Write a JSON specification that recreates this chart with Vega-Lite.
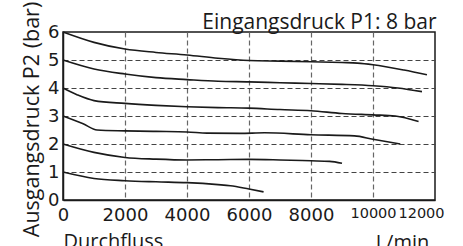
{
  "$schema": "https://vega.github.io/schema/vega-lite/v6.json",
  "autosize": {"type": "none"},
  "width": 372,
  "height": 168,
  "padding": {"left": 63, "top": 32, "right": 28, "bottom": 46},
  "background": "white",
  "config": {
    "view": {"stroke": "#1a1a1a", "strokeWidth": 1.5},
    "axis": {"labelColor": "#1a1a1a", "titleColor": "#1a1a1a"}
  },
  "data": {
    "values": [
      {"s": 6, "x": 0, "y": 6.0}, {"s": 6, "x": 1000, "y": 5.63}, {"s": 6, "x": 2000, "y": 5.39}, {"s": 6, "x": 3000, "y": 5.27}, {"s": 6, "x": 4000, "y": 5.18}, {"s": 6, "x": 5000, "y": 5.06}, {"s": 6, "x": 6000, "y": 4.98}, {"s": 6, "x": 7000, "y": 4.96}, {"s": 6, "x": 8000, "y": 4.94}, {"s": 6, "x": 9000, "y": 4.91}, {"s": 6, "x": 9500, "y": 4.89}, {"s": 6, "x": 10000, "y": 4.83}, {"s": 6, "x": 11000, "y": 4.64}, {"s": 6, "x": 11740, "y": 4.47},
      {"s": 5, "x": 0, "y": 5.0}, {"s": 5, "x": 1000, "y": 4.68}, {"s": 5, "x": 2000, "y": 4.5}, {"s": 5, "x": 3000, "y": 4.37}, {"s": 5, "x": 4000, "y": 4.3}, {"s": 5, "x": 5000, "y": 4.24}, {"s": 5, "x": 6000, "y": 4.22}, {"s": 5, "x": 7000, "y": 4.19}, {"s": 5, "x": 8000, "y": 4.16}, {"s": 5, "x": 9000, "y": 4.13}, {"s": 5, "x": 10000, "y": 4.08}, {"s": 5, "x": 10800, "y": 4.0}, {"s": 5, "x": 11580, "y": 3.87},
      {"s": 4, "x": 0, "y": 4.0}, {"s": 4, "x": 450, "y": 3.76}, {"s": 4, "x": 1000, "y": 3.55}, {"s": 4, "x": 2000, "y": 3.45}, {"s": 4, "x": 3000, "y": 3.38}, {"s": 4, "x": 4000, "y": 3.33}, {"s": 4, "x": 5000, "y": 3.3}, {"s": 4, "x": 6000, "y": 3.28}, {"s": 4, "x": 7000, "y": 3.23}, {"s": 4, "x": 8000, "y": 3.19}, {"s": 4, "x": 9000, "y": 3.09}, {"s": 4, "x": 10000, "y": 3.04}, {"s": 4, "x": 10720, "y": 3.0}, {"s": 4, "x": 11470, "y": 2.8},
      {"s": 3, "x": 0, "y": 3.0}, {"s": 3, "x": 650, "y": 2.72}, {"s": 3, "x": 1100, "y": 2.5}, {"s": 3, "x": 2000, "y": 2.47}, {"s": 3, "x": 3000, "y": 2.45}, {"s": 3, "x": 4000, "y": 2.43}, {"s": 3, "x": 4650, "y": 2.39}, {"s": 3, "x": 5700, "y": 2.38}, {"s": 3, "x": 6500, "y": 2.4}, {"s": 3, "x": 8000, "y": 2.33}, {"s": 3, "x": 9400, "y": 2.29}, {"s": 3, "x": 10000, "y": 2.17}, {"s": 3, "x": 10880, "y": 2.0},
      {"s": 2, "x": 0, "y": 2.0}, {"s": 2, "x": 1000, "y": 1.7}, {"s": 2, "x": 2000, "y": 1.52}, {"s": 2, "x": 3000, "y": 1.46}, {"s": 2, "x": 4000, "y": 1.43}, {"s": 2, "x": 5000, "y": 1.44}, {"s": 2, "x": 6000, "y": 1.45}, {"s": 2, "x": 7000, "y": 1.43}, {"s": 2, "x": 8000, "y": 1.4}, {"s": 2, "x": 8600, "y": 1.38}, {"s": 2, "x": 9000, "y": 1.31},
      {"s": 1, "x": 0, "y": 1.0}, {"s": 1, "x": 1000, "y": 0.77}, {"s": 1, "x": 2000, "y": 0.69}, {"s": 1, "x": 3000, "y": 0.65}, {"s": 1, "x": 4000, "y": 0.62}, {"s": 1, "x": 5000, "y": 0.55}, {"s": 1, "x": 5400, "y": 0.51}, {"s": 1, "x": 6000, "y": 0.39}, {"s": 1, "x": 6470, "y": 0.29}
    ]
  },
  "encoding": {
    "x": {
      "field": "x", "type": "quantitative",
      "scale": {"domain": [0, 12000], "nice": false},
      "axis": {
        "values": [0, 2000, 4000, 6000, 8000, 10000, 12000],
        "format": "d",
        "title": "Durchfluss",
        "titleAnchor": "start",
        "titleAlign": "left",
        "titleFont": "Open Sans",
        "titleFontSize": 20,
        "titleFontWeight": "normal",
        "titlePadding": 7,
        "labelFont": "DejaVu Sans",
        "labelFontSize": {"condition": {"test": "datum.value >= 10000", "value": 14.5}, "value": 18},
        "labelOffset": {"condition": {"test": "datum.value == 12000", "value": -14}, "value": 0},
        "labelFlush": false,
        "labelOverlap": false,
        "labelBound": false,
        "labelPadding": 6,
        "ticks": false,
        "domainColor": "#1a1a1a",
        "domainWidth": 1.5,
        "gridColor": "#666666",
        "gridDash": [5, 3],
        "gridWidth": 1.2,
        "gridOpacity": {"condition": {"test": "datum.value == 0 || datum.value == 12000", "value": 0}, "value": 1}
      }
    },
    "y": {
      "field": "y", "type": "quantitative",
      "scale": {"domain": [0, 6], "nice": false},
      "axis": {
        "values": [0, 1, 2, 3, 4, 5, 6],
        "title": "Ausgangsdruck P2 (bar)",
        "titleFont": "Open Sans",
        "titleFontSize": 21.5,
        "titleFontWeight": "normal",
        "titlePadding": 4,
        "titleY": 87,
        "labelFont": "DejaVu Sans",
        "labelFontSize": 18,
        "labelPadding": 4,
        "labelOverlap": false,
        "labelBound": false,
        "labelFlush": false,
        "ticks": false,
        "domainColor": "#1a1a1a",
        "domainWidth": 1.5,
        "gridColor": "#444444",
        "gridDash": [5, 3],
        "gridWidth": 1.2,
        "gridOpacity": {"condition": {"test": "datum.value == 0 || datum.value == 6", "value": 0}, "value": 1}
      }
    }
  },
  "layer": [
    {
      "mark": {"type": "line", "color": "#1a1a1a", "strokeWidth": 1.6, "interpolate": "monotone"},
      "encoding": {
        "detail": {"field": "s", "type": "nominal"}
      }
    },
    {
      "data": {"values": [{"x": 10950, "y": -1.17, "t": "L/min"}]},
      "mark": {"type": "text", "font": "Open Sans", "fontSize": 20, "baseline": "top", "align": "center", "color": "#1a1a1a"},
      "encoding": {
        "text": {"field": "t"}
      }
    },
    {
      "data": {"values": [{"x": 12050, "y": 6.1, "t": "Eingangsdruck P1: 8 bar"}]},
      "mark": {"type": "text", "font": "Open Sans", "fontSize": 21, "baseline": "alphabetic", "align": "right", "color": "#1a1a1a"},
      "encoding": {
        "text": {"field": "t"}
      }
    }
  ]
}
